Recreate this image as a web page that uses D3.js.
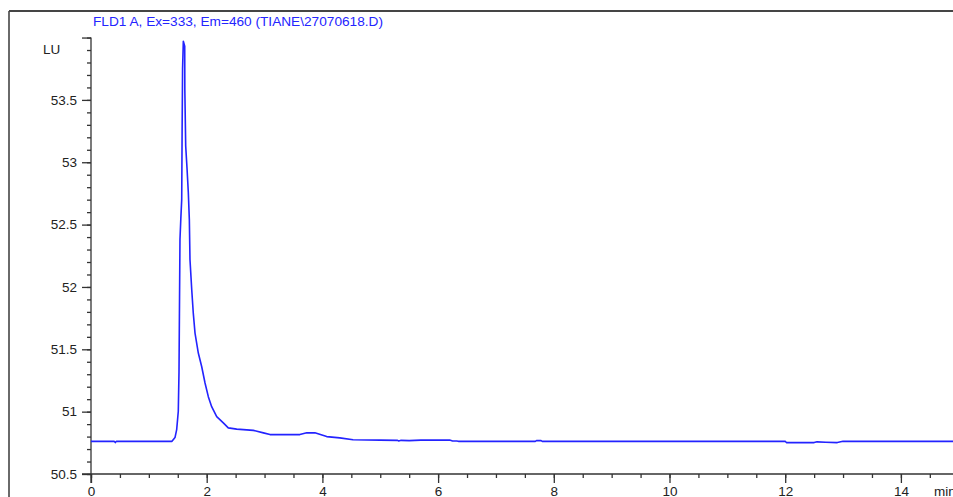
<!DOCTYPE html>
<html>
<head>
<meta charset="utf-8">
<script src="https://cdn.jsdelivr.net/npm/d3@7"></script>
<style>
  html, body { margin: 0; padding: 0; background: #fff; }
  svg { display: block; }
  text { font-family: "Liberation Sans", Arial, sans-serif; }
</style>
</head>
<body>
<svg id="chart" width="953" height="497"></svg>
<script>
// ---- data ----
const title = "FLD1 A, Ex=333, Em=460 (TIANE\\27070618.D)";
const yUnit = "LU";
const xUnit = "min";
const xTickLabels = [0, 2, 4, 6, 8, 10, 12, 14];
const yTickLabels = [50.5, 51, 51.5, 52, 52.5, 53, 53.5];
const timeMin = [
  0, 0.40, 0.42, 0.44, 1.40, 1.452, 1.481, 1.509, 1.521, 1.538, 1.553, 1.568, 1.575, 1.583, 1.596,
  1.62, 1.622, 1.637, 1.66, 1.682, 1.70, 1.711, 1.741, 1.768, 1.798, 1.855, 1.914, 1.971,
  2.028, 2.086, 2.173, 2.287, 2.373, 2.519, 2.806, 2.98, 3.094, 3.61, 3.73, 3.87, 4.074,
  4.30, 4.53, 5.0, 5.30, 5.32, 5.36, 5.5, 5.7, 5.9, 6.2, 6.25, 6.32, 6.35, 7.68, 7.70,
  7.78, 7.80, 12.0, 12.02, 12.5, 12.55, 12.7, 12.9, 12.98, 13.0, 15.0
];
const signalLU = [
  50.762, 50.762, 50.752, 50.762, 50.762, 50.792, 50.856, 51.003, 51.313, 52.38, 52.55, 52.70, 53.25, 53.75, 53.97,
  53.93, 53.58, 53.13, 52.95, 52.76, 52.54, 52.22, 51.98, 51.79, 51.63, 51.47, 51.36, 51.23,
  51.12, 51.04, 50.96, 50.91, 50.87, 50.86, 50.85, 50.83, 50.816, 50.816, 50.83, 50.83, 50.80,
  50.79, 50.775, 50.772, 50.770, 50.765, 50.770, 50.768, 50.772, 50.772, 50.772, 50.765, 50.765, 50.762, 50.762, 50.768,
  50.768, 50.762, 50.762, 50.752, 50.752, 50.758, 50.755, 50.752, 50.760, 50.762, 50.762
];

// ---- layout ----
const svg = d3.select("#chart");
const x = d3.scaleLinear().domain([0, 15]).range([91, 91 + 15 * 57.85]);
const y = d3.scaleLinear().domain([50.5, 54]).range([474, 474 - 3.5 * 124.7]);
const axisColor = "#333";
const lineColor = "#2323ff";
const fs = 13.5;

// frame
svg.append("line").attr("x1", 9).attr("x2", 953).attr("y1", 11).attr("y2", 11)
  .attr("stroke", "#454545").attr("stroke-width", 2);
svg.append("line").attr("x1", 9).attr("x2", 9).attr("y1", 11).attr("y2", 497)
  .attr("stroke", "#454545").attr("stroke-width", 1.6);

// title
svg.append("text").attr("x", 93).attr("y", 25.5).attr("fill", "#2424ff")
  .attr("font-size", 13.5).attr("textLength", 290).attr("lengthAdjust", "spacingAndGlyphs")
  .text(title);

// y axis
const yMinor = d3.range(50.5, 54.001, 0.1);
const yAxisMinor = d3.axisLeft(y).tickValues(yMinor).tickSize(4).tickFormat("");
const yAxisMajor = d3.axisLeft(y).tickValues(yTickLabels.concat([54])).tickSize(9)
  .tickFormat(d => d === 54 ? "" : d3.format("~g")(d)).tickPadding(5);
const gy1 = svg.append("g").attr("transform", `translate(${x(0)},0)`).call(yAxisMinor);
const gy2 = svg.append("g").attr("transform", `translate(${x(0)},0)`).call(yAxisMajor);
[gy1, gy2].forEach(g => {
  g.select(".domain").remove();
  g.selectAll("line").attr("stroke", axisColor).attr("stroke-width", 1.3);
  g.selectAll("text").attr("fill", "#222").attr("font-size", fs)
    .attr("font-family", "Liberation Sans, Arial, sans-serif");
});
svg.append("line").attr("x1", x(0)).attr("x2", x(0)).attr("y1", y(54)).attr("y2", y(50.5) + 9)
  .attr("stroke", axisColor).attr("stroke-width", 1.3);
svg.append("text").attr("x", 43).attr("y", 53.5).attr("fill", "#222")
  .attr("font-size", fs).text(yUnit);

// x axis
const xMinor = d3.range(0, 15.001, 0.5);
const xAxisMinor = d3.axisBottom(x).tickValues(xMinor).tickSize(4).tickFormat("");
const xAxisMajor = d3.axisBottom(x).tickValues(xTickLabels).tickSize(9)
  .tickFormat(d3.format("d")).tickPadding(3);
const gx1 = svg.append("g").attr("transform", `translate(0,${y(50.5)})`).call(xAxisMinor);
const gx2 = svg.append("g").attr("transform", `translate(0,${y(50.5)})`).call(xAxisMajor);
[gx1, gx2].forEach(g => {
  g.select(".domain").remove();
  g.selectAll("line").attr("stroke", axisColor).attr("stroke-width", 1.3);
  g.selectAll("text").attr("fill", "#222").attr("font-size", fs)
    .attr("font-family", "Liberation Sans, Arial, sans-serif").attr("dy", null).attr("y", 22);
});
svg.append("line").attr("x1", x(0) - 9).attr("x2", 953).attr("y1", y(50.5)).attr("y2", y(50.5))
  .attr("stroke", axisColor).attr("stroke-width", 1.3);
svg.append("text").attr("x", 934).attr("y", y(50.5) + 22).attr("fill", "#222")
  .attr("font-size", fs).text(xUnit);

// trace
const pts = timeMin.map((t, i) => [t, signalLU[i]]);
const line = d3.line().x(d => x(d[0])).y(d => y(d[1])).curve(d3.curveLinear);
svg.append("path").datum(pts).attr("d", line).attr("fill", "none")
  .attr("stroke", lineColor).attr("stroke-width", 1.6).attr("stroke-linejoin", "round");
</script>
</body>
</html>
